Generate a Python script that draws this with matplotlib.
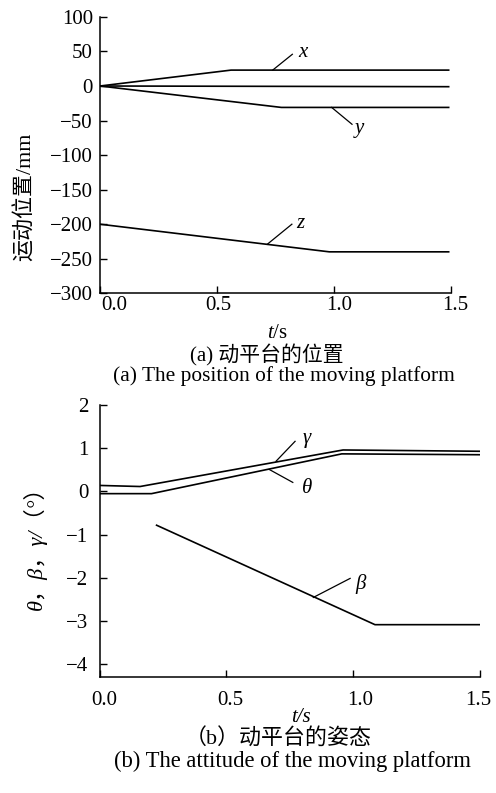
import matplotlib
matplotlib.use("Agg")
import matplotlib.pyplot as plt
from matplotlib.transforms import ScaledTranslation

plt.rcParams['font.family'] = ['Liberation Serif', 'Noto Sans CJK SC', 'DejaVu Sans']
plt.rcParams['mathtext.fontset'] = 'custom'
plt.rcParams['mathtext.rm'] = 'Liberation Serif'
plt.rcParams['mathtext.it'] = 'Liberation Serif:italic'

# ---- data (a) position ----
t_x = [0.0, 0.56, 1.49]
pos_x = [0.0, 23.0, 23.0]
t_mid = [0.0, 1.49]
pos_mid = [0.0, -1.0]
t_y = [0.0, 0.775, 1.49]
pos_y = [0.0, -31.0, -31.0]
t_z = [0.0, 0.98, 1.49]
pos_z = [-200.0, -240.0, -240.0]
pos_yticks = [100, 50, 0, -50, -100, -150, -200, -250, -300]
t_ticks = [0.0, 0.5, 1.0, 1.5]

# ---- data (b) attitude ----
t_gamma = [0.0, 0.16, 0.96, 1.5]
att_gamma = [0.14, 0.115, 0.96, 0.93]
t_theta = [0.0, 0.205, 0.955, 1.5]
att_theta = [-0.05, -0.05, 0.87, 0.85]
t_beta = [0.225, 1.086, 1.5]
att_beta = [-0.78, -3.08, -3.08]
att_yticks = [2, 1, 0, -1, -2, -3, -4]

W, H = 496, 793
fig = plt.figure(figsize=(W / 100, H / 100), dpi=100)

def ax_rect(l, t, r, b):
    return [l / W, 1 - b / H, (r - l) / W, (b - t) / H]

def ftext(x, y, s, **kw):
    fig.text(x / W, 1 - y / H, s, ha='center', va='center', **kw)

def shift_labels(ax, offsets):
    for lab, dx in zip(ax.get_xticklabels(), offsets):
        lab.set_transform(lab.get_transform() +
                          ScaledTranslation(dx / 100, 0, fig.dpi_scale_trans))

lw = 1.2
fs = 15

# ---------- top ----------
ax1 = fig.add_axes(ax_rect(100, 16.9, 451, 293.3))
for tt, vv in [(t_x, pos_x), (t_mid, pos_mid), (t_y, pos_y), (t_z, pos_z)]:
    ax1.plot(tt, vv, color='black', lw=lw)
ax1.set_xlim(0, 1.5)
ax1.set_ylim(-300, 100)
ax1.set_yticks(pos_yticks)
ax1.set_xticks(t_ticks)
ax1.set_xticklabels([f"{v:.1f}" for v in t_ticks])
ax1.set_yticklabels([str(v).replace('-', '\u2212') for v in pos_yticks])
ax1.spines['top'].set_visible(False)
ax1.spines['right'].set_visible(False)
ax1.tick_params(direction='in', length=5, width=1, labelsize=fs)
ax1.tick_params(axis='y', pad=5)
ax1.tick_params(axis='x', pad=2)
for sp in ax1.spines.values():
    sp.set_linewidth(1.1)
shift_labels(ax1, [14, 1.5, 5, 4])

ann_kw = dict(color='black', lw=0.9)
ax1.plot([0.738, 0.822], [23, 45.9], **ann_kw)
ax1.text(0.865, 49, 'x', style='italic', fontsize=fs, ha='center', va='center')
ax1.plot([0.99, 1.077], [-31, -55.4], **ann_kw)
ax1.text(1.109, -61, 'y', style='italic', fontsize=fs, ha='center', va='center')
ax1.plot([0.715, 0.82], [-229, -200], **ann_kw)
ax1.text(0.857, -199, 'z', style='italic', fontsize=fs, ha='center', va='center')

ftext(25, 197, '运动位置/mm', rotation=90, fontsize=15.8)
ftext(277, 333, '$t$/s', fontsize=fs)
ftext(267, 355, '(a) 动平台的位置', fontsize=15)
ftext(283.5, 376, '(a) The position of the moving platform', fontsize=15.4)

# ---------- bottom ----------
ax2 = fig.add_axes(ax_rect(99.5, 405, 480, 677))
ax2.plot(t_gamma, att_gamma, color='black', lw=lw)
ax2.plot(t_theta, att_theta, color='black', lw=lw)
ax2.plot(t_beta, att_beta, color='black', lw=lw)
ax2.set_xlim(0, 1.5)
ax2.set_ylim(-4.29, 2)
ax2.set_yticks(att_yticks)
ax2.set_yticklabels([str(v).replace('-', '\u2212') for v in att_yticks])
ax2.set_xticks(t_ticks)
ax2.set_xticklabels([f"{v:.1f}" for v in t_ticks])
ax2.spines['top'].set_visible(False)
ax2.spines['right'].set_visible(False)
ax2.tick_params(direction='in', length=5, width=1, labelsize=fs)
ax2.tick_params(axis='y', pad=8)
ax2.tick_params(axis='x', pad=10)
for sp in ax2.spines.values():
    sp.set_linewidth(1.1)
shift_labels(ax2, [5, 4, 7, -2])

ax2.plot([0.696, 0.771], [0.70, 1.16], **ann_kw)
ax2.text(0.816, 1.23, 'γ', style='italic', fontsize=fs, ha='center', va='center')
ax2.plot([0.669, 0.762], [0.51, 0.21], **ann_kw)
ax2.text(0.819, 0.08, 'θ', style='italic', fontsize=fs, ha='center', va='center')
ax2.plot([0.843, 0.988], [-2.45, -2.01], **ann_kw)
ax2.text(1.031, -2.13, 'β', style='italic', fontsize=fs, ha='center', va='center')

ftext(35, 543, 'θ，β，γ/（°）', rotation=90, fontsize=16, style='italic')
ftext(301, 718, 't/s', fontsize=fs, style='italic')
ftext(278, 739, '（b）动平台的姿态', fontsize=15.8)
ftext(293, 761, '(b) The attitude of the moving platform', fontsize=16.3)

fig.savefig('out.png', dpi=100)
